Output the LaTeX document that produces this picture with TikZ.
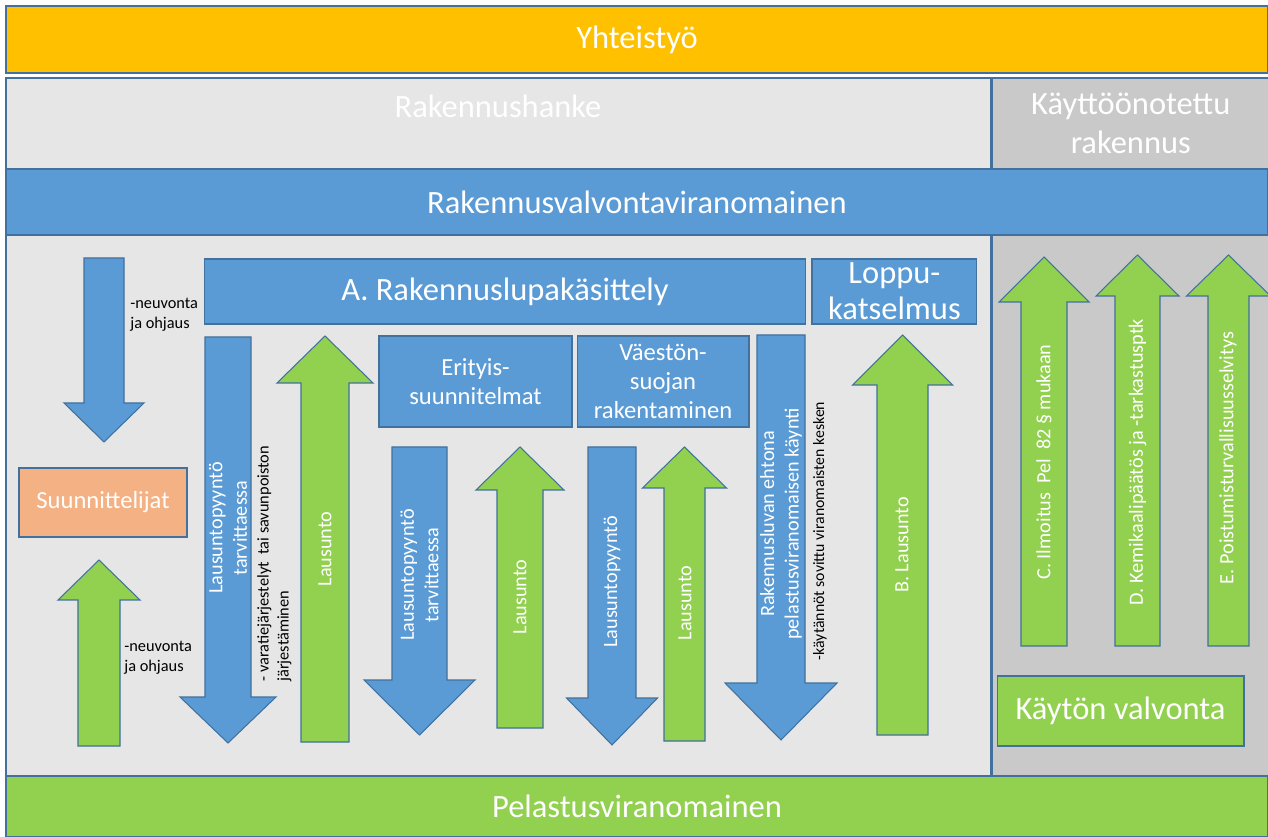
\documentclass[tikz,border=0pt]{standalone}
\usepackage{fontspec}
\setmainfont{Carlito}
\usepackage{tikz}
\usetikzlibrary{positioning}

\definecolor{yorange}{HTML}{FFC000}
\definecolor{lightgrey}{HTML}{E6E6E6}
\definecolor{midgrey}{HTML}{C9C9C9}
\definecolor{boxblue}{HTML}{5B9BD5}
\definecolor{boxgreen}{HTML}{92D050}
\definecolor{boxpeach}{HTML}{F4B183}
\definecolor{edgeblue}{HTML}{41719C}

\tikzstyle{band} = [rectangle, draw=edgeblue, line width=0.8pt, inner sep=0pt, text=white, align=center, font=\fontsize{18.5}{22}\selectfont]
\tikzstyle{panel} = [rectangle, draw=edgeblue, line width=0.8pt, inner sep=0pt]
\tikzstyle{process} = [rectangle, draw=edgeblue, line width=0.6pt, fill=boxblue, text=white, align=center, inner sep=0pt]
\tikzstyle{bigtext} = [font=\fontsize{18.5}{20.5}\selectfont]
\tikzstyle{midtext} = [font=\fontsize{14}{16.5}\selectfont]
\tikzstyle{arrowtext} = [rotate=90, text=white, align=center, inner sep=0pt, font=\fontsize{11.5}{14}\selectfont]
\tikzstyle{note} = [align=left, inner sep=0pt, text=black, font=\fontsize{9.3}{11.3}\selectfont]
\tikzstyle{downarrow} = [fill=boxblue, draw=edgeblue, line width=0.6pt]
\tikzstyle{uparrow} = [fill=boxgreen, draw=edgeblue, line width=0.6pt]

% block arrow: style, centre x, half shaft, half head, tail y, head base y, tip y
\newcommand{\blockarrow}[7]{%
  \draw [#1] (#2-#3,#5) -- (#2+#3,#5) -- (#2+#3,#6) -- (#2+#4,#6) -- (#2,#7)
    -- (#2-#4,#6) -- (#2-#3,#6) -- cycle;}

\begin{document}
\begin{tikzpicture}[x=0.02cm, y=-0.02cm]
	\useasboundingbox (0,0) rectangle (1268,837);
	\fill [white] (0,0) rectangle (1268,837);
	
	\node (yhteistyo) [band, fill=yorange, minimum width=25.24cm, minimum height=1.34cm] at (637,39.5) {Yhteistyö};
	
	\node (hankepanel) [panel, fill=lightgrey, minimum width=19.7cm, minimum height=1.82cm] at (498.5,123.5) {};
	\node (kayttopanel) [band, fill=midgrey, minimum width=5.54cm, minimum height=1.82cm, right=0cm of hankepanel] {Käyttöönotettu\\rakennus};
	\node (hanke) [text=white, bigtext] at (498,106) {Rakennushanke};
	
	\node (lowleft) [panel, fill=lightgrey, minimum width=19.7cm, minimum height=10.82cm] at (498.5,505.5) {};
	\node (lowright) [panel, fill=midgrey, minimum width=5.54cm, minimum height=10.82cm, right=0cm of lowleft] {};
	
	\node (rvv) [band, fill=boxblue, minimum width=25.24cm, minimum height=1.32cm] at (637,202) {Rakennusvalvontaviranomainen};
	\node (pelastus) [band, fill=boxgreen, minimum width=25.24cm, minimum height=1.22cm] at (637,806.5) {Pelastusviranomainen};
	
	\node (lupa) [process, bigtext, minimum width=12.04cm, minimum height=1.3cm] at (505,291.5) {A. Rakennuslupakäsittely};
	\node (loppu) [process, bigtext, minimum width=3.3cm, minimum height=1.3cm, right=0.1cm of lupa] {Loppu-\\katselmus};
	\node (erityis) [process, midtext, minimum width=3.86cm, minimum height=1.82cm] at (475.5,381.5) {Erityis-\\suunnitelmat};
	\node (vss) [process, midtext, minimum width=3.44cm, minimum height=1.82cm, right=0.08cm of erityis] {Väestön-\\suojan\\rakentaminen};
	\node (suunnittelijat) [process, fill=boxpeach, midtext, minimum width=3.36cm, minimum height=1.38cm] at (103,502.5) {Suunnittelijat};
	\node (kvalvonta) [process, fill=boxgreen, bigtext, minimum width=4.94cm, minimum height=1.4cm] at (1120.5,711) {Käytön valvonta};
	
	% left column
	\blockarrow{downarrow}{104}{20}{40}{258}{403}{442}
	\blockarrow{uparrow}{99}{21}{41}{746}{600}{560}
	\node (neuvonta1) [note, anchor=north west] at (130,298) {-neuvonta\\ja ohjaus};
	\node (neuvonta2) [note, anchor=north west] at (124,641) {-neuvonta\\ja ohjaus};
	
	% rakennuslupa
	\blockarrow{downarrow}{228}{23}{48}{337}{697}{743}
	\blockarrow{uparrow}{325}{24}{48}{742}{383}{336}
	\node (pyynto1) [arrowtext] at (228,528) {Lausuntopyyntö\\tarvittaessa};
	\node (lausunto1) [arrowtext] at (325,549) {Lausunto};
	\node (varatie) [note, rotate=90, anchor=north west] at (257,682) {- varatiejärjestelyt\ \ tai savunpoiston\\järjestäminen};
	
	% erityissuunnitelmat and vss
	\blockarrow{downarrow}{419.5}{27.5}{55.5}{447}{680}{735}
	\blockarrow{uparrow}{520}{23}{44}{728}{490}{447}
	\blockarrow{downarrow}{612}{24}{45.5}{447}{698}{745}
	\blockarrow{uparrow}{684.5}{20.5}{42}{741}{488}{447}
	\node (pyynto2) [arrowtext] at (419.5,575) {Lausuntopyyntö\\tarvittaessa};
	\node (lausunto2) [arrowtext] at (520,597) {Lausunto};
	\node (pyynto3) [arrowtext] at (612,582) {Lausuntopyyntö};
	\node (lausunto3) [arrowtext] at (685,603) {Lausunto};
	
	% kaynti and loppukatselmus
	\blockarrow{downarrow}{781}{24}{56}{335}{683}{740}
	\blockarrow{uparrow}{902.5}{25.5}{50}{735}{385}{335}
	\node (ehto) [arrowtext] at (781,524) {Rakennusluvan ehtona\\pelastusviranomaisen käynti};
	\node (kaytannot) [note, rotate=90, font=\fontsize{9}{11}\selectfont] at (820,531) {-käytännöt sovittu viranomaisten kesken};
	\node (lausuntoB) [arrowtext] at (902,545) {B. Lausunto};
	
	% kayttoonotettu rakennus
	\blockarrow{uparrow}{1044}{23}{45}{646}{302}{257}
	\blockarrow{uparrow}{1137.5}{22.5}{41.5}{646}{296}{255}
	\blockarrow{uparrow}{1228.5}{20.5}{42}{646}{296}{255}
	\node (ilmoitus) [arrowtext] at (1044,462) {C. Ilmoitus\ \ Pel\ \ 82 § mukaan};
	\node (kemikaali) [arrowtext] at (1137.5,462) {D. Kemikaalipäätös ja -tarkastusptk};
	\node (poistuminen) [arrowtext] at (1228,458) {E. Poistumisturvallisuusselvitys};
	
\end{tikzpicture}
\end{document}
